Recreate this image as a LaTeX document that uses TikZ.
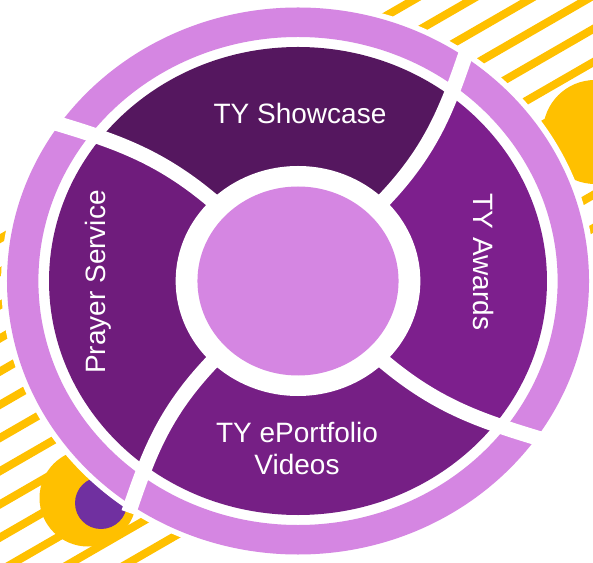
\documentclass[tikz,border=0pt]{standalone}
\usepackage{fontspec}
\setmainfont{Liberation Sans}
\definecolor{lilac}{HTML}{D586E2}
\definecolor{plumdark}{HTML}{55175F}
\definecolor{plumleft}{HTML}{6F1C7C}
\definecolor{plumright}{HTML}{7D1F8D}
\definecolor{plumbottom}{HTML}{761F85}
\definecolor{sunyellow}{HTML}{FFC000}
\definecolor{dotviolet}{HTML}{7030A0}

\begin{document}
\begin{tikzpicture}[x=1pt, y=1pt,
    wheeltext/.style={text=white, font=\fontsize{28}{32}\selectfont, inner sep=0pt, align=center},
    stripeline/.style={sunyellow, line width=8pt},
    gapline/.style={white, line width=15pt}]
    \useasboundingbox (0,0) rectangle (593,562);
    \fill[white] (0,0) rectangle (593,562);

    % Stripes and dots
    \begin{scope}
        \clip (0,0) rectangle (593,562);
        \begin{scope}[rotate=30]
            \foreach \i in {0,...,12}
                \draw[stripeline] (-900,{280-28.75*\i}) -- (900,{280-28.75*\i});
        \end{scope}
        \fill[sunyellow] (595,430) circle (52);
        \fill[sunyellow] (88,64) circle (48.5);
        \fill[dotviolet] (101,59) circle (26);
    \end{scope}

    % Wheel
    \begin{scope}[shift={(298,281)}, x=1.064pt, y=1pt]
        \fill[white] (0,0) circle (279);
        \fill[lilac, even odd rule] (0,0) circle (273.5) circle (244);
        \begin{scope}
            \clip (0,0) circle (234);
            \foreach \a/\col in {0/plumdark, 90/plumleft, 180/plumbottom, 270/plumright}
                \fill[\col] (0,0) -- ({\a+45}:113)
                    .. controls ({\a+46.15}:182.9) and ({\a+51.1}:224.2) .. ({\a+55.5}:281)
                    -- ({\a+55}:330) -- ({\a+100}:330) -- ({\a+145}:330) -- ({\a+145.5}:281)
                    .. controls ({\a+141.1}:224.2) and ({\a+136.15}:182.9) .. ({\a+135}:113) -- cycle;
        \end{scope}
        % Gaps between the parts
        \foreach \a in {45,135,225,315}
            \draw[gapline] (\a:113) .. controls ({\a+1.15}:182.9) and ({\a+6.1}:224.2) .. ({\a+10.5}:281);
        \fill[white] (0,0) circle (115);
        \fill[lilac] (0,0) circle (94.5);
    \end{scope}

    % Labels
    \node[wheeltext, anchor=base] (showcase) at (300,438) {TY Showcase};
    \node[wheeltext, rotate=90, anchor=base] (prayer) at (105,280) {Prayer Service};
    \node[wheeltext, rotate=-90, anchor=base] (awards) at (473,300) {TY Awards};
    \node[wheeltext] (videos) at (297,114) {TY ePortfolio\\Videos};
\end{tikzpicture}
\end{document}
